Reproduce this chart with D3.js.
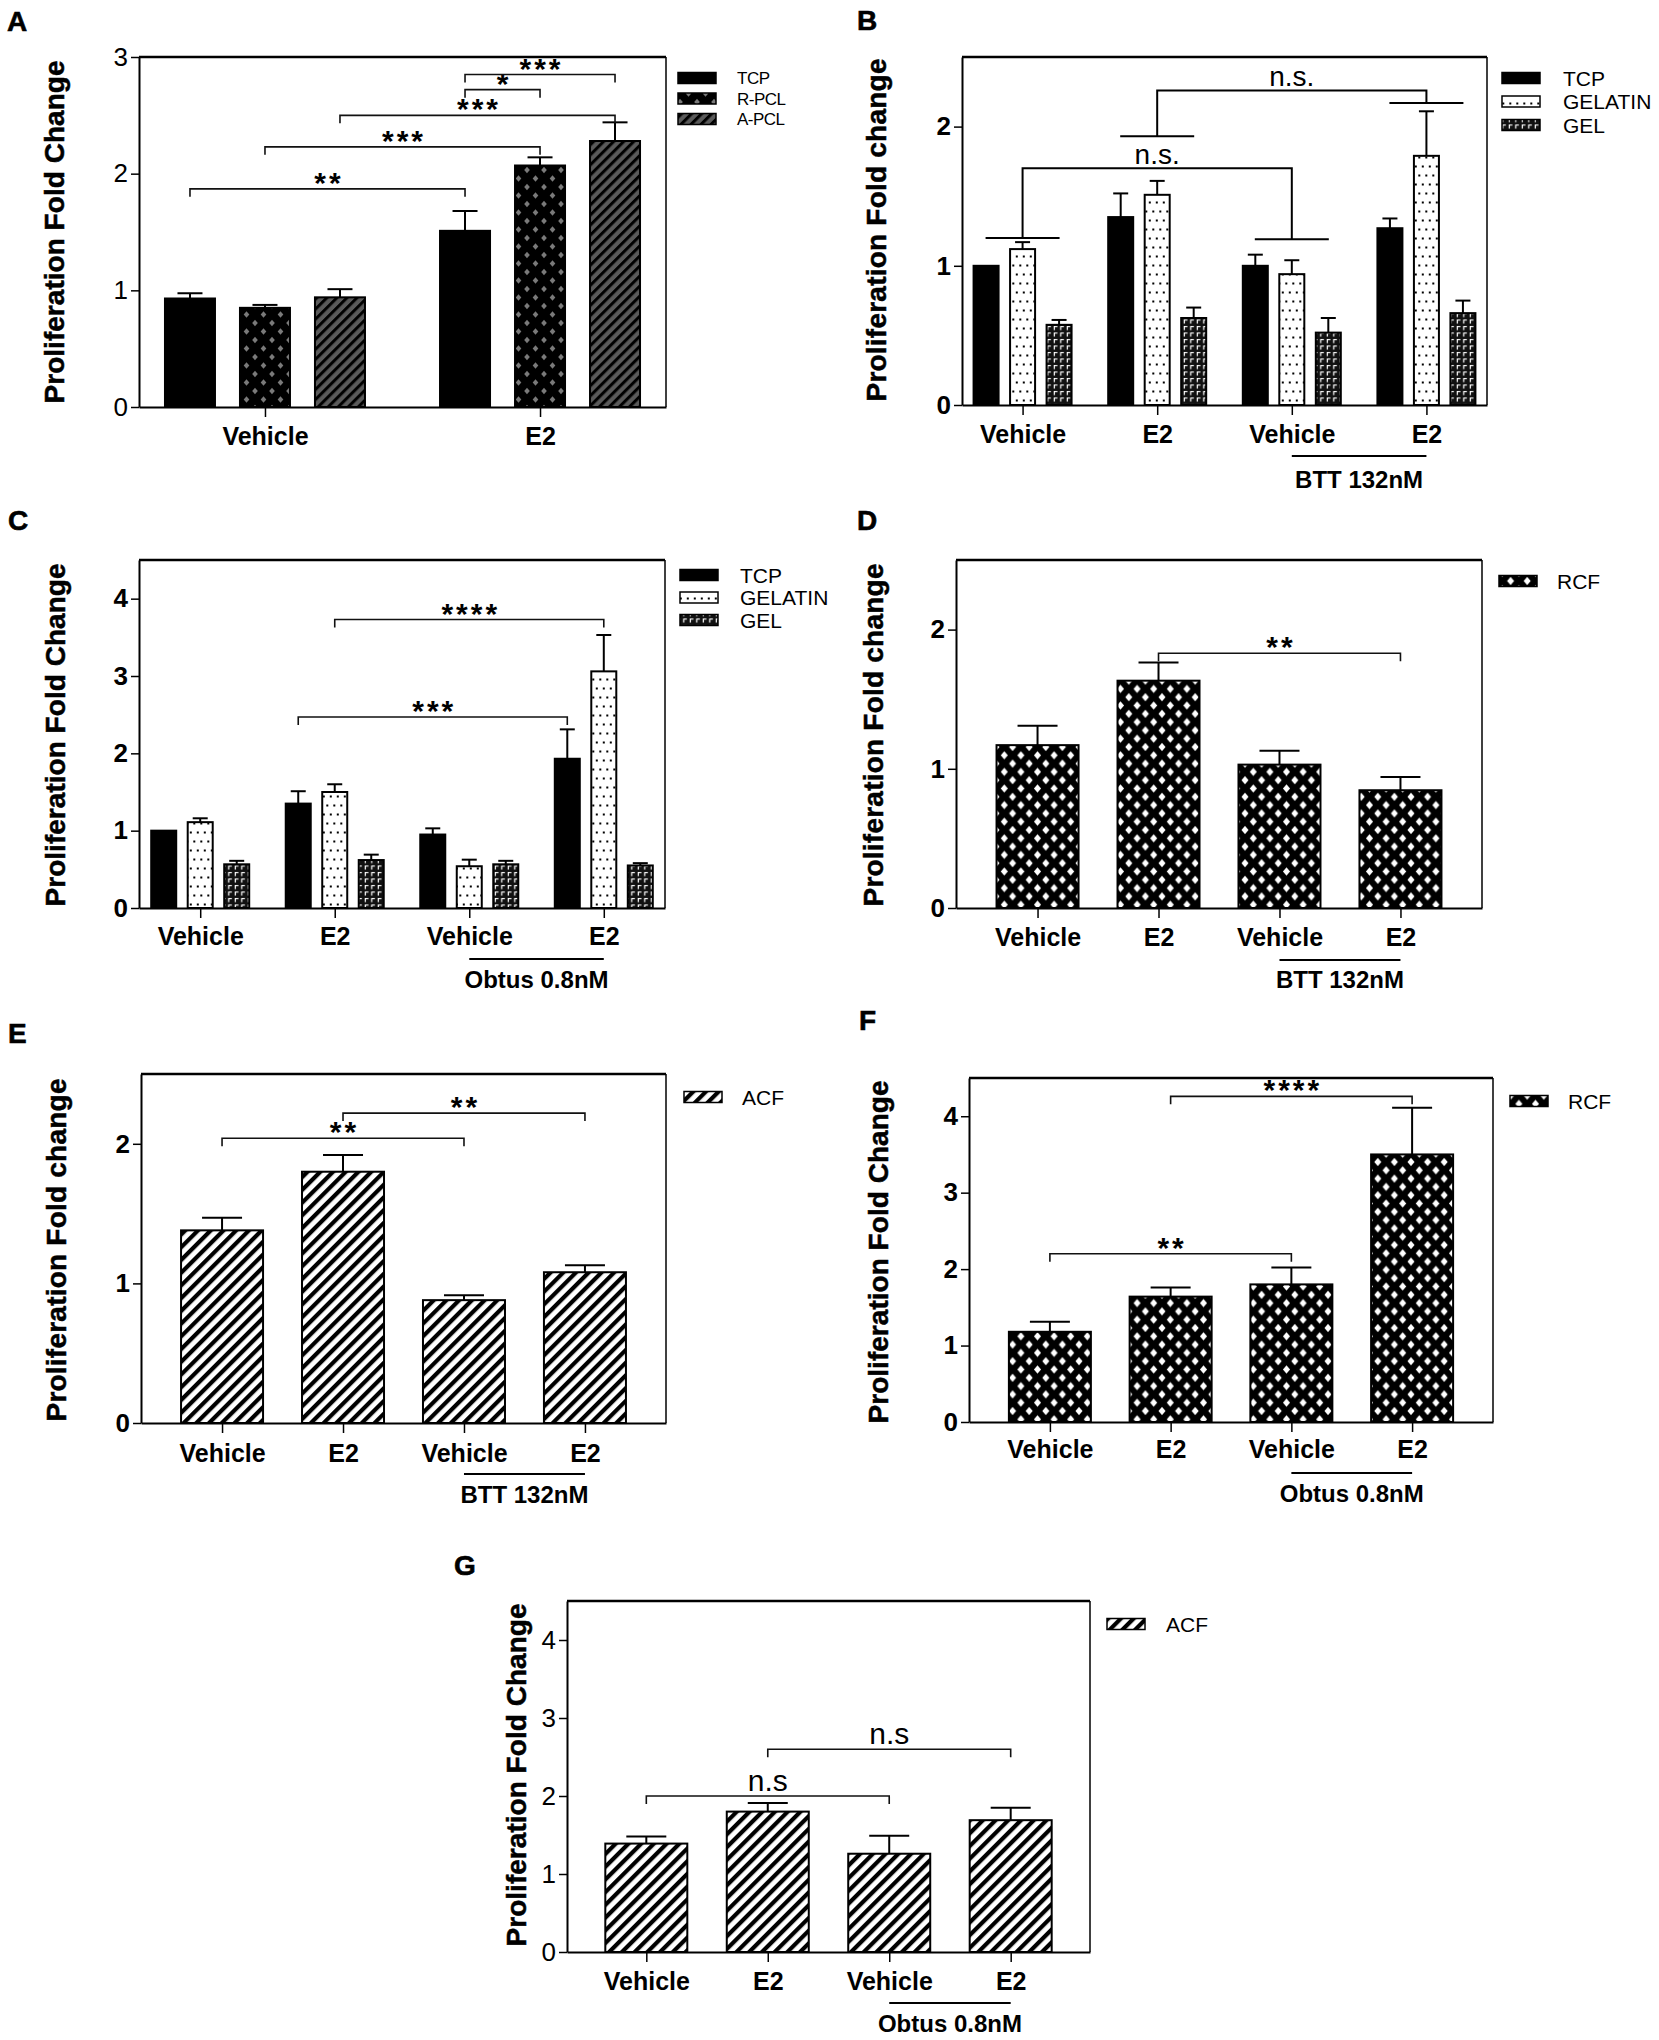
<!DOCTYPE html>
<html><head><meta charset="utf-8">
<script src="https://cdn.jsdelivr.net/npm/d3@7"></script>
<style>
body{margin:0;background:#fff;}
svg{display:block;font-family:"Liberation Sans",Arial,Helvetica,sans-serif;}
</style></head><body>
<svg id="fig" width="1659" height="2040"></svg>
<script>
// ---------------- DATA ----------------
const groups2 = ["Vehicle", "E2"];
const groups4 = ["Vehicle", "E2", "Vehicle", "E2"];

const seriesA = ["TCP", "R-PCL", "A-PCL"];
const meanA = [[0.93, 0.85, 0.94], [1.51, 2.07, 2.28]];
const errA  = [[0.045, 0.025, 0.07], [0.17, 0.07, 0.16]];
const ticksA = [0, 1, 2, 3];
const sigA = [
  {a: [0, 0], b: [1, 0], y: 1.87, t: "**"},
  {a: [0, 1], b: [1, 1], y: 2.23, t: "***"},
  {a: [0, 2], b: [1, 2], y: 2.50, t: "***"},
  {a: [1, 0], b: [1, 1], y: 2.72, t: "*"},
  {a: [1, 0], b: [1, 2], y: 2.85, t: "***"}
];

const seriesB = ["TCP", "GELATIN", "GEL"];
const meanB = [[1.0, 1.12, 0.576], [1.35, 1.51, 0.625], [1.0, 0.94, 0.52], [1.27, 1.79, 0.66]];
const errB  = [[0, 0.05, 0.035], [0.17, 0.10, 0.075], [0.08, 0.10, 0.105], [0.07, 0.32, 0.09]];
const ticksB = [0, 1, 2];
const groupSigB = [
  {a: 0, ya: 1.20, b: 2, yb: 1.19, top: 1.70, t: "n.s."},
  {a: 1, ya: 1.93, b: 3, yb: 2.17, top: 2.26, t: "n.s."}
];

const seriesC = ["TCP", "GELATIN", "GEL"];
const meanC = [[1.0, 1.11, 0.565], [1.35, 1.5, 0.62], [0.95, 0.54, 0.565], [1.93, 3.06, 0.55]];
const errC  = [[0, 0.05, 0.045], [0.16, 0.10, 0.07], [0.08, 0.085, 0.045], [0.38, 0.47, 0.03]];
const ticksC = [0, 1, 2, 3, 4];
const sigC = [
  {a: [1, 0], b: [3, 0], y: 2.47, t: "***"},
  {a: [1, 1], b: [3, 1], y: 3.73, t: "****"}
];

const seriesD = ["RCF"];
const meanD = [1.17, 1.633, 1.03, 0.846];
const errD  = [0.14, 0.13, 0.10, 0.095];
const ticksD = [0, 1, 2];
const sigD = [{a: [1, 0], b: [3, 0], y: 1.83, t: "**"}];

const seriesE = ["ACF"];
const meanE = [1.38, 1.80, 0.88, 1.08];
const errE  = [0.09, 0.12, 0.036, 0.05];
const ticksE = [0, 1, 2];
const sigE = [
  {a: [0, 0], b: [2, 0], y: 2.04, t: "**"},
  {a: [1, 0], b: [3, 0], y: 2.22, t: "**"}
];

const seriesF = ["RCF"];
const meanF = [1.18, 1.64, 1.80, 3.50];
const errF  = [0.13, 0.12, 0.22, 0.61];
const ticksF = [0, 1, 2, 3, 4];
const sigF = [
  {a: [0, 0], b: [2, 0], y: 2.2, t: "**"},
  {a: [1, 0], b: [3, 0], y: 4.26, t: "****"}
];

const seriesG = ["ACF"];
const meanG = [1.39, 1.80, 1.26, 1.69];
const errG  = [0.09, 0.11, 0.23, 0.16];
const ticksG = [0, 1, 2, 3, 4];
const sigG = [
  {a: [0, 0], b: [2, 0], y: 2.0, t: "n.s"},
  {a: [1, 0], b: [3, 0], y: 2.6, t: "n.s"}
];

// ---------------- PATTERNS ----------------
const svg = d3.select("#fig");
svg.append("rect").attr("width", 1659).attr("height", 2040).attr("fill", "#fff");
const defs = svg.append("defs");

function diamondPattern(id, bg, fg, tile, hw, hh) {
  const p = defs.append("pattern").attr("id", id).attr("patternUnits", "userSpaceOnUse")
    .attr("width", tile).attr("height", tile);
  p.append("rect").attr("width", tile).attr("height", tile).attr("fill", bg);
  [[0, 0], [tile, 0], [0, tile], [tile, tile], [tile / 2, tile / 2]].forEach(([cx, cy]) =>
    p.append("path").attr("d", `M${cx},${cy - hh}L${cx + hw},${cy}L${cx},${cy + hh}L${cx - hw},${cy}Z`).attr("fill", fg));
}
function stripePattern(id, bg, fg, period, width) {
  const p = defs.append("pattern").attr("id", id).attr("patternUnits", "userSpaceOnUse")
    .attr("width", period).attr("height", period).attr("patternTransform", "rotate(45)");
  p.append("rect").attr("width", period).attr("height", period).attr("fill", bg);
  p.append("rect").attr("width", width).attr("height", period).attr("fill", fg);
}
diamondPattern("diamGrey", "#000", "#7a7a7a", 17, 2.8, 3.2);
diamondPattern("diamWhite", "#000", "#fff", 16.6, 3.5, 4.1);
stripePattern("stripeGrey", "#5a5a5a", "#000", 7.1, 3);
stripePattern("stripeBW", "#fff", "#000", 9.0, 4.2);
(function () {
  const p = defs.append("pattern").attr("id", "dots").attr("patternUnits", "userSpaceOnUse")
    .attr("width", 7).attr("height", 18);
  p.append("rect").attr("width", 7).attr("height", 18).attr("fill", "#fff");
  p.append("rect").attr("x", 0.8).attr("y", 3.5).attr("width", 2).attr("height", 2).attr("fill", "#000");
  p.append("rect").attr("x", 4.3).attr("y", 12.5).attr("width", 2).attr("height", 2).attr("fill", "#000");
  const q = defs.append("pattern").attr("id", "gel").attr("patternUnits", "userSpaceOnUse")
    .attr("width", 6.5).attr("height", 6.5);
  q.append("rect").attr("width", 6.5).attr("height", 6.5).attr("fill", "#111");
  q.append("path").attr("d", "M1.3,5.2V1.6H4.4").attr("fill", "none").attr("stroke", "#fff").attr("stroke-width", 1.2);
})();

const fills = {"TCP": "#000", "R-PCL": "url(#diamGrey)", "A-PCL": "url(#stripeGrey)",
  "GELATIN": "url(#dots)", "GEL": "url(#gel)", "RCF": "url(#diamWhite)", "ACF": "url(#stripeBW)"};

const tickFont = "'Liberation Sans Narrow','Arial Narrow','Liberation Sans',Arial,sans-serif";

// ---------------- PANEL DRAWER ----------------
function drawPanel(o) {
  const g = svg.append("g");
  const y = d3.scaleLinear().domain([0, o.ymax]).range([o.y1, o.y0]);
  const x = d3.scalePoint().domain(d3.range(o.groups.length)).range([o.x0, o.x1]).padding(o.pad);
  const sub = d3.scaleBand().domain(d3.range(o.series.length)).range([-o.subW / 2, o.subW / 2]).paddingInner(o.subPad);
  const bw = sub.bandwidth();
  const cx = (gi, si) => x(gi) + sub(si) + bw / 2;

  // letter
  g.append("text").attr("x", o.letter[0]).attr("y", o.letter[1]).attr("font-size", 28)
    .attr("font-weight", "bold").attr("stroke", "#000").attr("stroke-width", 0.6).text(o.id);

  // bars
  o.means.forEach((row, gi) => row.forEach((v, si) => {
    g.append("rect").attr("x", x(gi) + sub(si)).attr("y", y(v)).attr("width", bw)
      .attr("height", y(0) - y(v)).attr("fill", fills[o.series[si]])
      .attr("stroke", "#000").attr("stroke-width", 2);
    const e = o.errs[gi][si];
    if (e > 0) {
      const c = cx(gi, si);
      g.append("line").attr("x1", c).attr("x2", c).attr("y1", y(v)).attr("y2", y(v + e))
        .attr("stroke", "#000").attr("stroke-width", 2);
      g.append("line").attr("x1", c - o.cap / 2).attr("x2", c + o.cap / 2).attr("y1", y(v + e)).attr("y2", y(v + e))
        .attr("stroke", "#000").attr("stroke-width", 2);
    }
  }));

  // frame (top & right)
  g.append("line").attr("x1", o.x0).attr("x2", o.x1).attr("y1", o.y0).attr("y2", o.y0)
    .attr("stroke", "#000").attr("stroke-width", 2.5);
  g.append("line").attr("x1", o.x1).attr("x2", o.x1).attr("y1", o.y0).attr("y2", o.y1)
    .attr("stroke", "#000").attr("stroke-width", 1.5);

  // axes
  const ya = g.append("g").attr("transform", `translate(${o.x0},0)`)
    .call(d3.axisLeft(y).tickValues(o.ticks).tickFormat(d3.format("d")).tickSize(8).tickSizeOuter(0).tickPadding(3));
  ya.select(".domain").attr("stroke-width", 2);
  ya.selectAll(".tick line").attr("stroke-width", 1.5);
  ya.selectAll("text").attr("font-size", 26).attr("font-weight", o.tickBold ? "bold" : "normal")
    .attr("font-family", tickFont).attr("fill", "#000");

  const xa = g.append("g").attr("transform", `translate(0,${o.y1})`)
    .call(d3.axisBottom(x).tickFormat(i => o.groups[i]).tickSize(10).tickSizeOuter(0));
  xa.select(".domain").attr("stroke-width", 2);
  xa.selectAll(".tick line").attr("stroke-width", 1.5);
  xa.selectAll("text").attr("dy", null).attr("y", o.xlabelY - o.y1).attr("font-size", 25)
    .attr("font-weight", "bold").attr("font-family", "'Liberation Sans',Arial,sans-serif").attr("fill", "#000");

  // y title
  g.append("text").attr("transform", `translate(${o.titleX},${o.titleY}) rotate(-90)`)
    .attr("text-anchor", "middle").attr("font-size", 28).attr("font-weight", "bold")
    .attr("stroke", "#000").attr("stroke-width", 0.5)
    .attr("textLength", 343).attr("lengthAdjust", "spacing").text(o.title);

  // significance brackets
  (o.sig || []).forEach(s => {
    const xa1 = cx(s.a[0], s.a[1]), xb = cx(s.b[0], s.b[1]), yy = y(s.y), d = 8;
    g.append("path").attr("d", `M${xa1},${yy + d}V${yy}H${xb}V${yy + d}`)
      .attr("fill", "none").attr("stroke", "#111").attr("stroke-width", 1.6);
    const star = s.t.indexOf("*") >= 0;
    g.append("text").attr("x", (xa1 + xb) / 2 + (star ? 1.5 : 0)).attr("y", star ? yy + 4 : yy - 5)
      .attr("text-anchor", "middle").attr("font-size", 30)
      .attr("font-weight", star ? "bold" : "normal").attr("letter-spacing", star ? 3 : 0)
      .text(s.t);
  });
  (o.groupSig || []).forEach(s => {
    const xa1 = x(s.a), xb = x(s.b), ya1 = y(s.ya), yb = y(s.yb), yt = y(s.top), hw = 37;
    g.append("path").attr("d",
      `M${xa1 - hw},${ya1}H${xa1 + hw}M${xa1},${ya1}V${yt}H${xb}V${yb}M${xb - hw},${yb}H${xb + hw}`)
      .attr("fill", "none").attr("stroke", "#000").attr("stroke-width", 2);
    g.append("text").attr("x", (xa1 + xb) / 2).attr("y", yt - 4).attr("text-anchor", "middle")
      .attr("font-size", 28).text(s.t);
  });

  // sub-label under last two groups
  if (o.subLabel) {
    g.append("line").attr("x1", x(2)).attr("x2", x(3)).attr("y1", o.subLineY).attr("y2", o.subLineY)
      .attr("stroke", "#000").attr("stroke-width", 2);
    g.append("text").attr("x", (x(2) + x(3)) / 2).attr("y", o.subTextY).attr("text-anchor", "middle")
      .attr("font-size", 24).attr("font-weight", "bold").text(o.subLabel);
  }

  // legend
  const L = o.legend;
  o.series.forEach((s, i) => {
    const cy = L.y + i * (L.dy || 0);
    g.append("rect").attr("x", L.x).attr("y", cy - 5.5).attr("width", 38).attr("height", 11)
      .attr("fill", fills[s]).attr("stroke", "#000").attr("stroke-width", 1.5);
    g.append("text").attr("x", L.tx).attr("y", cy + 0.36 * L.fs).attr("font-size", L.fs)
      .attr("letter-spacing", L.ls || 0).text(s);
  });
}

const wrap = arr => arr.map(v => [v]);

drawPanel({id: "A", letter: [7, 31], groups: groups2, series: seriesA, means: meanA, errs: errA,
  ticks: ticksA, ymax: 3, x0: 139, x1: 666, y0: 57, y1: 407, pad: 0.458, subW: 200, subPad: 1 / 3,
  cap: 25, tickBold: false, xlabelY: 445, title: "Proliferation Fold Change", titleX: 64, titleY: 232,
  sig: sigA, legend: {x: 678, y: 78, dy: 20.5, tx: 737, fs: 17, ls: -0.5}});

drawPanel({id: "B", letter: [857, 30], groups: groups4, series: seriesB, means: meanB, errs: errB,
  ticks: ticksB, ymax: 2.5, x0: 962, x1: 1487, y0: 57, y1: 405, pad: 0.45, subW: 98, subPad: 0.315,
  cap: 15, tickBold: true, xlabelY: 443, title: "Proliferation Fold change", titleX: 886, titleY: 230,
  groupSig: groupSigB, subLabel: "BTT 132nM", subLineY: 456, subTextY: 488,
  legend: {x: 1502, y: 78, dy: 23.5, tx: 1563, fs: 21}});

drawPanel({id: "C", letter: [8, 530], groups: groups4, series: seriesC, means: meanC, errs: errC,
  ticks: ticksC, ymax: 4.5, x0: 139, x1: 665, y0: 560, y1: 908, pad: 0.455, subW: 98, subPad: 0.315,
  cap: 15, tickBold: true, xlabelY: 945, title: "Proliferation Fold Change", titleX: 65, titleY: 735,
  sig: sigC, subLabel: "Obtus 0.8nM", subLineY: 959, subTextY: 988,
  legend: {x: 680, y: 575, dy: 22.5, tx: 740, fs: 21}});

drawPanel({id: "D", letter: [857, 530], groups: groups4, series: seriesD, means: wrap(meanD), errs: wrap(errD),
  ticks: ticksD, ymax: 2.5, x0: 956, x1: 1482, y0: 560, y1: 908, pad: 0.674, subW: 82, subPad: 0,
  cap: 40, tickBold: true, xlabelY: 946, title: "Proliferation Fold change", titleX: 883, titleY: 735,
  sig: sigD, subLabel: "BTT 132nM", subLineY: 960, subTextY: 988,
  legend: {x: 1499, y: 581, tx: 1557, fs: 21}});

drawPanel({id: "E", letter: [8, 1043], groups: groups4, series: seriesE, means: wrap(meanE), errs: wrap(errE),
  ticks: ticksE, ymax: 2.5, x0: 141, x1: 666, y0: 1074, y1: 1423, pad: 0.67, subW: 82, subPad: 0,
  cap: 40, tickBold: true, xlabelY: 1462, title: "Proliferation Fold change", titleX: 66, titleY: 1250,
  sig: sigE, subLabel: "BTT 132nM", subLineY: 1474, subTextY: 1503,
  legend: {x: 684, y: 1097, tx: 742, fs: 21}});

drawPanel({id: "F", letter: [859, 1030], groups: groups4, series: seriesF, means: wrap(meanF), errs: wrap(errF),
  ticks: ticksF, ymax: 4.5, x0: 969, x1: 1493, y0: 1078, y1: 1422, pad: 0.67, subW: 82, subPad: 0,
  cap: 40, tickBold: true, xlabelY: 1458, title: "Proliferation Fold Change", titleX: 888, titleY: 1252,
  sig: sigF, subLabel: "Obtus 0.8nM", subLineY: 1473, subTextY: 1502,
  legend: {x: 1510, y: 1101, tx: 1568, fs: 21}});

drawPanel({id: "G", letter: [454, 1575], groups: groups4, series: seriesG, means: wrap(meanG), errs: wrap(errG),
  ticks: ticksG, ymax: 4.5, x0: 567, x1: 1090, y0: 1601, y1: 1952, pad: 0.653, subW: 82, subPad: 0,
  cap: 40, tickBold: false, xlabelY: 1990, title: "Proliferation Fold Change", titleX: 526, titleY: 1775,
  sig: sigG, subLabel: "Obtus 0.8nM", subLineY: 2003, subTextY: 2032,
  legend: {x: 1107, y: 1624, tx: 1166, fs: 21}});
</script>
</body></html>
